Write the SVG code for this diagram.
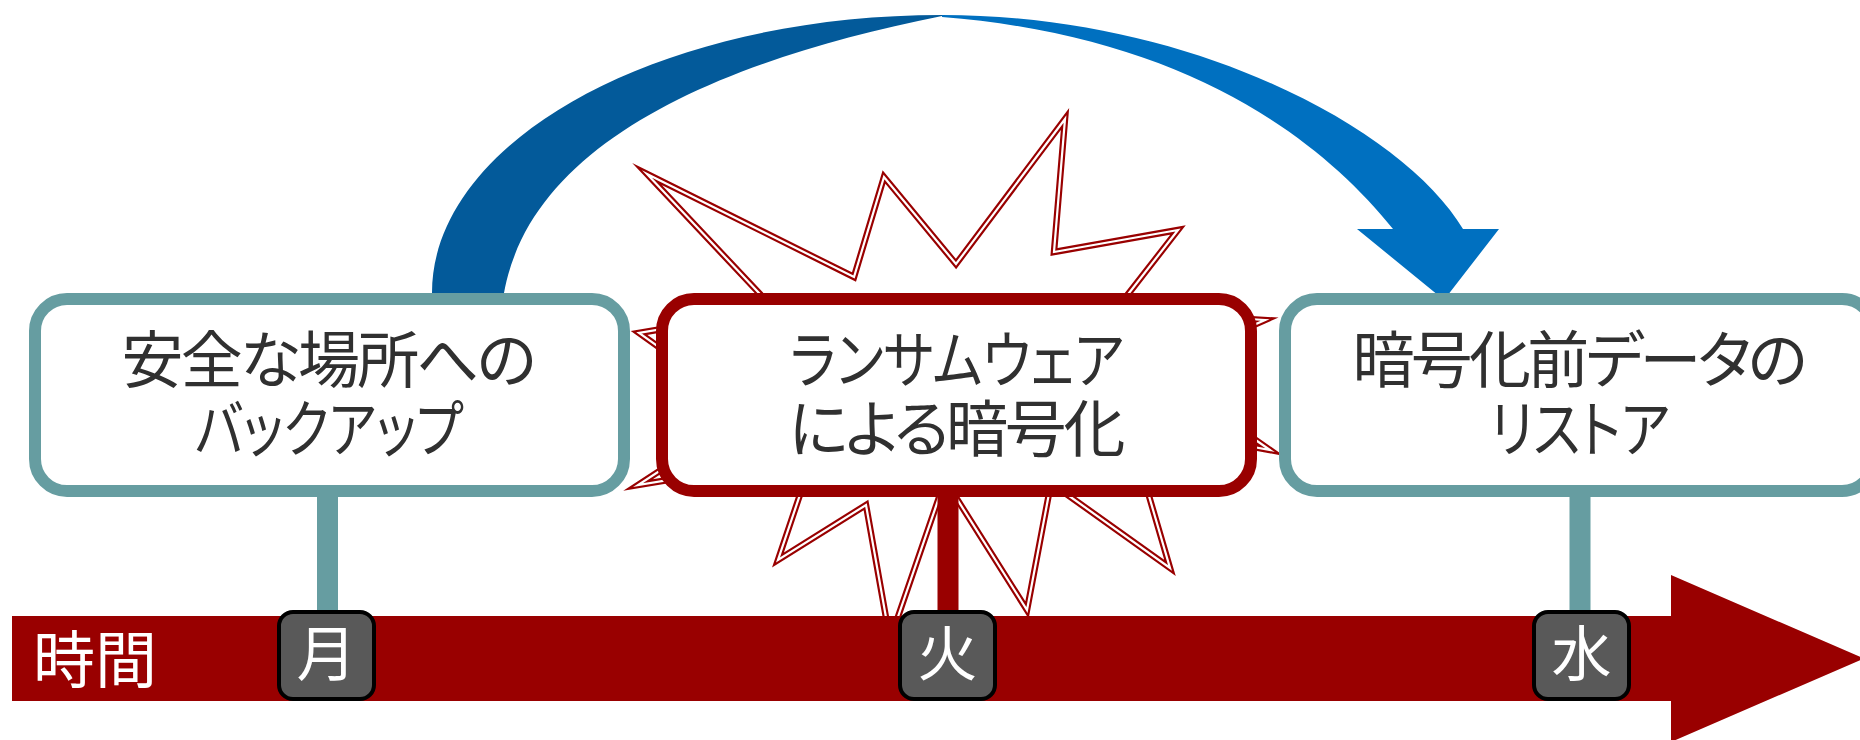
<svg xmlns="http://www.w3.org/2000/svg" width="1860" height="740" viewBox="0 0 1860 740">
<style>
.box{fill:#ffffff;stroke-width:12}
.teal{stroke:#669DA1}
.red{stroke:#990000}
.lbl{font-family:"Noto Sans CJK JP","Noto Sans",sans-serif;font-size:62px;fill:#303030;text-anchor:middle;font-feature-settings:"palt" 1}
.day{font-family:"Noto Sans CJK JP","Noto Sans",sans-serif;font-size:60px;fill:#ffffff;text-anchor:middle}
.tag{fill:#595959;stroke:#000000;stroke-width:4}
.burst{fill:#ffffff;stroke:#990000;stroke-width:6.5;stroke-linejoin:miter;stroke-miterlimit:40}
.burstIn{fill:none;stroke:#ffffff;stroke-width:2.2;stroke-linejoin:miter;stroke-miterlimit:40}
</style>
<defs>
<polygon id="burstShape" points="647,174 854,277 884,177 956,264 1065,119 1054,252 1178,230 1115,311 1265,320 1154,369 1270,450 1128,424 1170,568 1051,483 1027,610 945,480 890,640 866,505 778,560 813,456 638,485 750,412 639,333 775,310"/>
</defs>
<rect width="1860" height="740" fill="#ffffff"/>

<g id="curved-arrow">
<path d="M432,300 L432,293 C432,139.5 660.3,15 942,15 L942,16 C717,61 531,143 504,293 L504,300 Z" fill="#035A9A"/>
<path d="M942,15 C1192,15 1403,129 1463,229 L1499,229 L1444,300 L1357,229 L1393,229 C1313,129 1172,35 942,17 Z" fill="#0070C0"/>
</g>

<g id="explosion">
<use href="#burstShape" class="burst"/>
<use href="#burstShape" class="burstIn"/>
</g>

<g id="connectors">
<line x1="327.5" y1="490" x2="327.5" y2="615" stroke="#669DA1" stroke-width="21"/>
<line x1="948" y1="490" x2="948" y2="615" stroke="#990000" stroke-width="21"/>
<line x1="1580" y1="490" x2="1580" y2="615" stroke="#669DA1" stroke-width="21"/>
</g>

<g id="node-backup">
<rect class="box teal" x="35" y="299" width="589" height="192" rx="32"/>
<text class="lbl"><tspan x="329" y="383" textLength="415" lengthAdjust="spacing">安全な場所への</tspan><tspan x="329" y="452" textLength="268" lengthAdjust="spacingAndGlyphs">バックアップ</tspan></text>
</g>

<g id="node-ransomware">
<rect class="box red" x="662" y="299" width="589" height="192" rx="32"/>
<text class="lbl"><tspan x="957" y="383" textLength="334" lengthAdjust="spacingAndGlyphs">ランサムウェア</tspan><tspan x="957" y="452" textLength="337" lengthAdjust="spacing">による暗号化</tspan></text>
</g>

<g id="node-restore">
<rect class="box teal" x="1285" y="299" width="589" height="192" rx="32"/>
<text class="lbl"><tspan x="1580" y="383" textLength="455" lengthAdjust="spacing">暗号化前データの</tspan><tspan x="1580" y="452" textLength="180" lengthAdjust="spacingAndGlyphs">リストア</tspan></text>
</g>

<g id="timeline">
<polygon points="12,616 1671,616 1671,575 1864,658.5 1671,742 1671,701 12,701" fill="#990000"/>
<text x="33" y="683" font-family="'Noto Sans CJK JP','Noto Sans',sans-serif" font-size="62" fill="#ffffff">時間</text>
</g>

<g id="tag-mon">
<rect class="tag" x="279" y="612" width="95" height="87" rx="14"/>
<text class="day" x="326.5" y="676">月</text>
</g>
<g id="tag-tue">
<rect class="tag" x="900" y="612" width="95" height="87" rx="14"/>
<text class="day" x="947.5" y="676">火</text>
</g>
<g id="tag-wed">
<rect class="tag" x="1534" y="612" width="95" height="87" rx="14"/>
<text class="day" x="1581.5" y="676">水</text>
</g>
</svg>
